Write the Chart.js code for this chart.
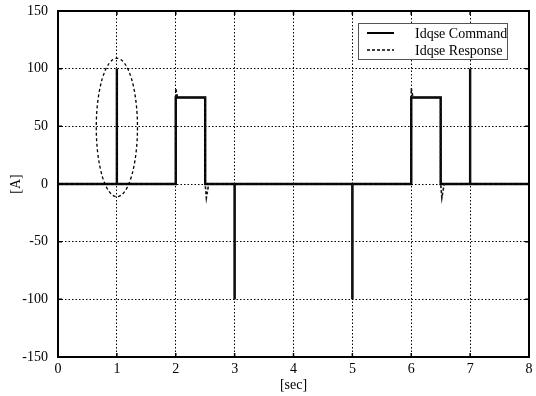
<!DOCTYPE html>
<html>
<head>
<meta charset="utf-8">
<script src="https://cdn.jsdelivr.net/npm/chart.js@4/dist/chart.umd.min.js"></script>
<style>
  html, body { margin: 0; padding: 0; background: #fff; }
  #wrap { width: 536px; height: 396px; }
</style>
</head>
<body>
<div id="wrap"><canvas id="c" width="536" height="396"></canvas></div>
<script>
// Current reference (step/pulse profile) and the measured response
const seriesNames = ['Idqse Command', 'Idqse Response'];

const cmdTime  = [0, 1, 1, 1, 2, 2, 2.5, 2.5, 3, 3, 3, 5, 5, 5, 6, 6, 6.5, 6.5, 7, 7, 7, 8];
const cmdValue = [0, 0, 100, 0, 0, 75, 75, 0, 0, -100, 0, 0, -100, 0, 0, 75, 75, 0, 0, 100, 0, 0];

const respTime  = [0, 1, 1, 1, 2, 2, 2.03, 2.5, 2.5, 2.52, 2.56, 3, 3, 3, 5, 5, 5, 6, 6, 6.03, 6.5, 6.5, 6.52, 6.56, 7, 7, 7, 8];
const respValue = [0, 0, 100, 0, 0, 83, 75, 75, 0, -12, 0, 0, -100, 0, 0, -100, 0, 0, 83, 75, 75, 0, -12, 0, 0, 100, 0, 0];

const xTicks = [0, 1, 2, 3, 4, 5, 6, 7, 8];
const yTicks = [-150, -100, -50, 0, 50, 100, 150];

// Highlighted region around the first pulse (centre and radii in data units)
const markCentre = { x: 1.0, y: 49 };
const markRadius = { x: 0.35, y: 60 };

const toPoints = (t, v) => t.map((x, i) => ({ x, y: v[i] }));
const serif = "'Liberation Serif', 'Times New Roman', serif";

const framePlugin = {
  id: 'frame',
  afterDatasetsDraw(chart) {
    const { ctx, chartArea: a, scales } = chart;
    const xs = scales.x, ys = scales.y;
    ctx.save();

    // Inward tick marks on all four sides
    ctx.strokeStyle = '#000';
    ctx.lineWidth = 1.5;
    ctx.setLineDash([]);
    ctx.beginPath();
    xTicks.forEach(v => {
      const px = xs.getPixelForValue(v);
      ctx.moveTo(px, a.bottom); ctx.lineTo(px, a.bottom - 4);
      ctx.moveTo(px, a.top); ctx.lineTo(px, a.top + 4);
    });
    yTicks.forEach(v => {
      const py = ys.getPixelForValue(v);
      ctx.moveTo(a.left, py); ctx.lineTo(a.left + 4, py);
      ctx.moveTo(a.right, py); ctx.lineTo(a.right - 4, py);
    });
    ctx.stroke();

    // Plot frame
    ctx.lineWidth = 2;
    ctx.strokeRect(a.left, a.top, a.right - a.left, a.bottom - a.top);

    // Dashed ellipse marking the first pulse
    const cx = xs.getPixelForValue(markCentre.x);
    const cy = ys.getPixelForValue(markCentre.y);
    const rx = Math.abs(xs.getPixelForValue(markCentre.x + markRadius.x) - cx);
    const ry = Math.abs(ys.getPixelForValue(markCentre.y + markRadius.y) - cy);
    ctx.lineWidth = 1.3;
    ctx.setLineDash([3, 2.5]);
    ctx.beginPath();
    ctx.ellipse(cx, cy, rx, ry, 0, 0, Math.PI * 2);
    ctx.stroke();

    // Legend box
    const bx = 358, by = 23, bw = 149, bh = 36;
    ctx.setLineDash([]);
    ctx.fillStyle = '#fff';
    ctx.fillRect(bx, by, bw, bh);
    ctx.strokeStyle = '#555';
    ctx.lineWidth = 1;
    ctx.strokeRect(bx + 0.5, by + 0.5, bw, bh);

    chart.data.datasets.forEach((ds, i) => {
      const ly = by + 10 + i * 17;
      ctx.strokeStyle = '#000';
      ctx.lineWidth = i === 0 ? 2 : 1.5;
      ctx.setLineDash(i === 0 ? [] : [3, 2]);
      ctx.beginPath();
      ctx.moveTo(bx + 9, ly);
      ctx.lineTo(bx + 36, ly);
      ctx.stroke();
      ctx.setLineDash([]);
      ctx.fillStyle = '#000';
      ctx.font = '14px ' + serif;
      ctx.textAlign = 'left';
      ctx.textBaseline = 'middle';
      ctx.fillText(ds.label, bx + 57, ly + 1);
    });
    ctx.restore();
  }
};

new Chart(document.getElementById('c'), {
  type: 'line',
  data: {
    datasets: [
      {
        label: seriesNames[0],
        data: toPoints(cmdTime, cmdValue),
        borderColor: '#000',
        borderWidth: 2.4,
        pointRadius: 0,
        tension: 0,
        fill: false,
        order: 1
      },
      {
        label: seriesNames[1],
        data: toPoints(respTime, respValue),
        borderColor: '#111',
        borderWidth: 1.6,
        borderDash: [3, 2],
        pointRadius: 0,
        tension: 0,
        fill: false,
        order: 0
      }
    ]
  },
  options: {
    responsive: false,
    animation: false,
    events: [],
    layout: { padding: { left: 0, top: 11, right: 7, bottom: 0 } },
    plugins: { legend: { display: false }, tooltip: { enabled: false } },
    scales: {
      x: {
        type: 'linear',
        min: 0, max: 8,
        afterFit(s) { s.height = 39; s.paddingLeft = 0; s.paddingRight = 0; },
        afterBuildTicks(s) { s.ticks = xTicks.map(v => ({ value: v })); },
        ticks: { color: '#000', padding: 4, font: { family: serif, size: 14 }, maxRotation: 0 },
        grid: { color: '#000', lineWidth: 1, drawTicks: false },
        border: { display: false, dash: [1.5, 2] },
        title: { display: true, text: '[sec]', color: '#000', font: { family: serif, size: 14 }, padding: { top: 0, bottom: 2 } }
      },
      y: {
        type: 'linear',
        min: -150, max: 150,
        afterFit(s) { s.width = 58; s.paddingTop = 0; s.paddingBottom = 0; },
        afterBuildTicks(s) { s.ticks = yTicks.map(v => ({ value: v })); },
        ticks: { color: '#000', padding: 10, font: { family: serif, size: 14 } },
        grid: { color: '#000', lineWidth: 1, drawTicks: false },
        border: { display: false, dash: [1.5, 2] },
        title: { display: true, text: '[A]', color: '#000', font: { family: serif, size: 14 }, padding: { top: 8, bottom: 0 } }
      }
    }
  },
  plugins: [framePlugin]
});
</script>
</body>
</html>
